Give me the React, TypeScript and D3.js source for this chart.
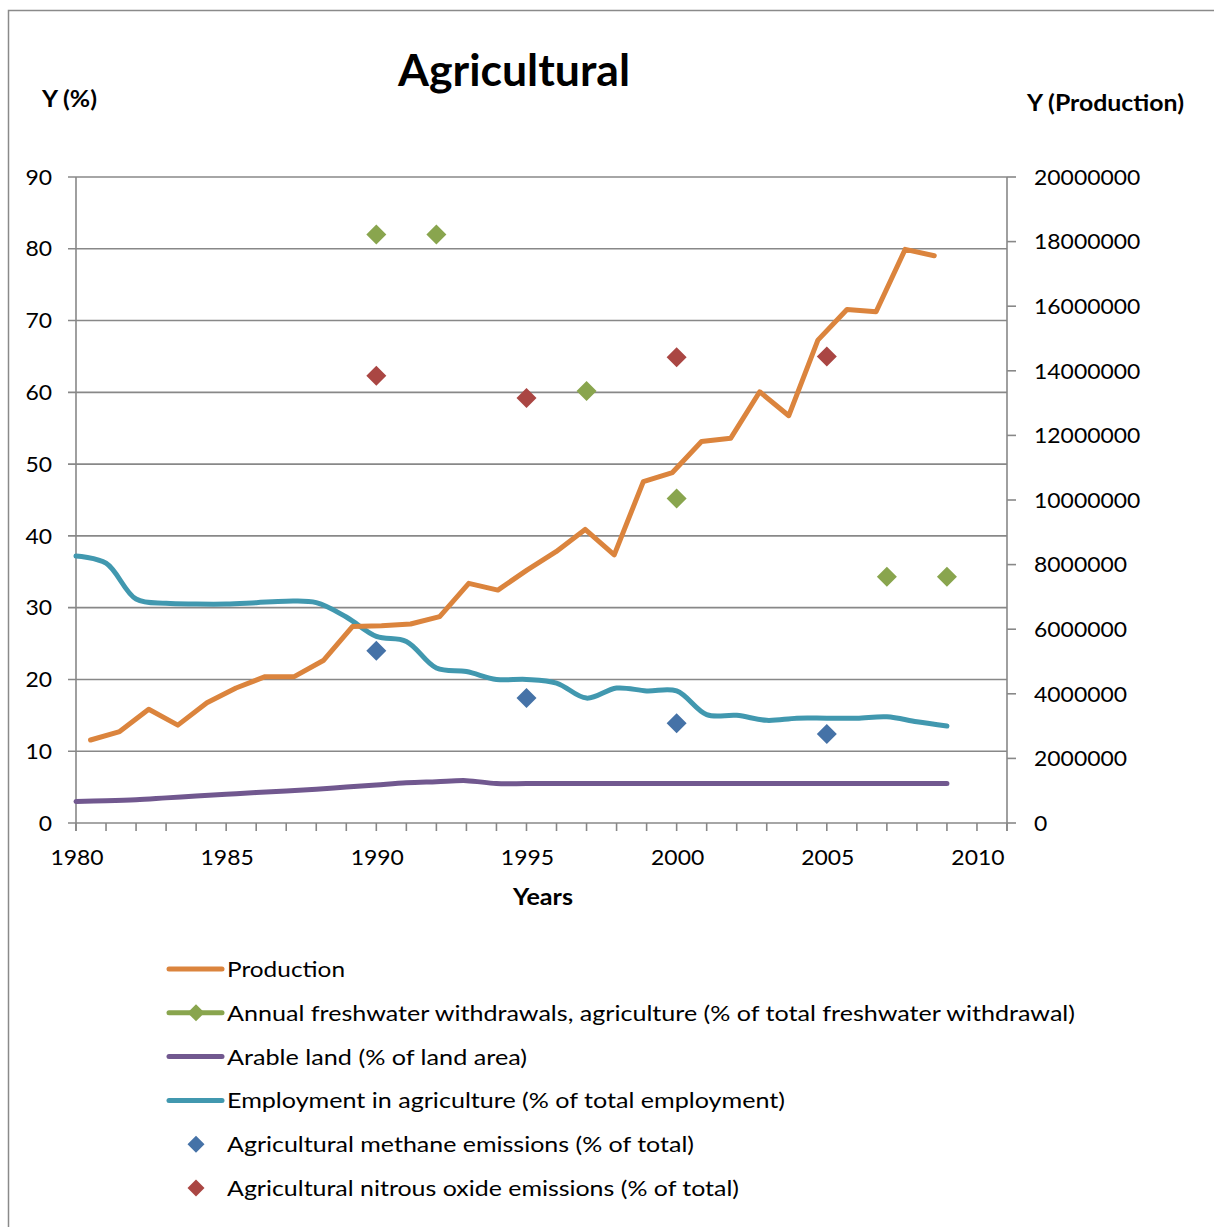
import React from "react";
import * as d3 from "d3";

const years = d3.range(1980, 2010);
const allYears = d3.range(1980, 2012);
const production = [2570000, 2830000, 3520000, 3030000, 3720000, 4180000, 4530000, 4530000, 5030000, 6080000, 6110000, 6160000, 6390000, 7420000, 7210000, 7830000, 8400000, 9090000, 8300000, 10570000, 10850000, 11810000, 11910000, 13350000, 12610000, 14950000, 15900000, 15830000, 17760000, 17560000];
const employment = [37.2, 36.2, 31.2, 30.6, 30.5, 30.5, 30.7, 30.9, 30.7, 28.7, 26.0, 25.3, 21.6, 21.1, 20.0, 20.0, 19.5, 17.4, 18.8, 18.4, 18.4, 15.1, 15.0, 14.3, 14.6, 14.6, 14.6, 14.8, 14.1, 13.5];
const arable = [3.0, 3.1, 3.25, 3.5, 3.75, 4.0, 4.25, 4.45, 4.7, 5.0, 5.3, 5.6, 5.75, 5.9, 5.5, 5.5, 5.5, 5.5, 5.5, 5.5, 5.5, 5.5, 5.5, 5.5, 5.5, 5.5, 5.5, 5.5, 5.5, 5.5];
const freshwaterYears = [1990, 1992, 1997, 2000, 2007, 2009];
const freshwater = [82.0, 82.0, 60.2, 45.2, 34.3, 34.3];
const methaneYears = [1990, 1995, 2000, 2005];
const methane = [24.0, 17.4, 13.9, 12.4];
const nitrousYears = [1990, 1995, 2000, 2005];
const nitrous = [62.3, 59.2, 64.9, 65.0];
const leftTicks = d3.range(0, 91, 10);
const rightTicks = d3.range(0, 20000001, 2000000);
const yearLabels = [1980, 1985, 1990, 1995, 2000, 2005, 2010];

const C = {
  production: "#DB843D",
  freshwater: "#89A54E",
  arable: "#71588F",
  employment: "#4198AF",
  methane: "#4572A7",
  nitrous: "#AA4643",
  grid: "#888888",
};

const legendItems = [
  { label: "Production", color: C.production, kind: "line", w: 118 },
  { label: "Annual freshwater withdrawals, agriculture (% of total freshwater withdrawal)", color: C.freshwater, kind: "linemarker", w: 848 },
  { label: "Arable land (% of land area)", color: C.arable, kind: "line", w: 300 },
  { label: "Employment in agriculture (% of total employment)", color: C.employment, kind: "line", w: 558 },
  { label: "Agricultural methane emissions (% of total)", color: C.methane, kind: "marker", w: 467 },
  { label: "Agricultural nitrous oxide emissions (% of total)", color: C.nitrous, kind: "marker", w: 512 },
];

const FONT = "Lato, 'Open Sans', sans-serif";
const DIGIT_W = 13.3;

function diamond(cx: number, cy: number, r: number) {
  return `M${cx},${cy - r}L${cx + r},${cy}L${cx},${cy + r}L${cx - r},${cy}Z`;
}

export default function App() {
  const W = 1214, H = 1227;
  const x0 = 76, x1 = 1007, yTop = 177, yBot = 823;
  const x = d3.scaleLinear().domain([1980, 2011]).range([x0, x1]);
  const xProd = d3.scaleBand<number>().domain(allYears).range([x0, x1]).padding(0);
  const y = d3.scaleLinear().domain([0, 90]).range([yBot, yTop]);
  const y2 = d3.scaleLinear().domain([0, 20000000]).range([yBot, yTop]);

  const prodLine = d3.line<number>()
    .x((_, i) => (xProd(years[i]) as number) + xProd.bandwidth() / 2)
    .y((d) => y2(d));
  const smooth = d3.line<number>()
    .x((_, i) => x(years[i]))
    .y((d) => y(d))
    .curve(d3.curveCatmullRom.alpha(0.5));

  const legendY0 = 969, legendStep = 43.8;
  const LW = 5;

  return (
    <svg width={W} height={H} style={{ position: "absolute", left: 0, top: 0, background: "#fff" }} fontFamily={FONT}>
      <rect x={0} y={0} width={W} height={H} fill="#fff" />
      <rect x={8.5} y={10.5} width={W + 20} height={H + 20} fill="none" stroke="#8a8a8a" strokeWidth={1.5} />

      {/* gridlines */}
      {leftTicks.map((t) => (
        <line key={"g" + t} x1={x0 - 8} x2={x1} y1={y(t)} y2={y(t)} stroke={C.grid} strokeWidth={1.6} />
      ))}
      {/* axes */}
      <line x1={x0} x2={x0} y1={yTop} y2={yBot + 8} stroke={C.grid} strokeWidth={1.6} />
      <line x1={x1} x2={x1} y1={yTop} y2={yBot} stroke={C.grid} strokeWidth={1.6} />
      {rightTicks.map((t) => (
        <line key={"r" + t} x1={x1} x2={x1 + 9} y1={y2(t)} y2={y2(t)} stroke={C.grid} strokeWidth={1.6} />
      ))}
      {allYears.map((yr) => (
        <line key={"xt" + yr} x1={x(yr)} x2={x(yr)} y1={yBot} y2={yBot + 8} stroke={C.grid} strokeWidth={1.6} />
      ))}
      <line x1={x1} x2={x1} y1={yBot} y2={yBot + 8} stroke={C.grid} strokeWidth={1.6} />

      {/* tick labels */}
      {leftTicks.map((t) => (
        <text key={"lt" + t} x={52} y={y(t)} dy="0.35em" textAnchor="end" fontSize={22} fill="#000"
          textLength={String(t).length * DIGIT_W} lengthAdjust="spacingAndGlyphs">{t}</text>
      ))}
      {rightTicks.map((t) => (
        <text key={"rt" + t} x={1034} y={y2(t)} dy="0.35em" textAnchor="start" fontSize={22} fill="#000"
          textLength={String(t).length * DIGIT_W} lengthAdjust="spacingAndGlyphs">{t}</text>
      ))}
      {yearLabels.map((yr) => (
        <text key={"yl" + yr} x={x(yr) + 1} y={857} dy="0.35em" textAnchor="middle" fontSize={22} fill="#000"
          textLength={4 * DIGIT_W} lengthAdjust="spacingAndGlyphs">{yr}</text>
      ))}

      {/* titles */}
      <text x={514} y={86} textAnchor="middle" fontSize={44} fontWeight="bold" fill="#000" textLength={232} lengthAdjust="spacingAndGlyphs">Agricultural</text>
      <text x={42} y={107} fontSize={22} fontWeight="bold" fill="#000" textLength={55} lengthAdjust="spacingAndGlyphs">Y (%)</text>
      <text x={1027} y={111} fontSize={22} fontWeight="bold" fill="#000" textLength={157} lengthAdjust="spacingAndGlyphs">Y (Production)</text>
      <text x={543} y={905} textAnchor="middle" fontSize={22} fontWeight="bold" fill="#000" textLength={60} lengthAdjust="spacingAndGlyphs">Years</text>

      {/* series */}
      <path d={smooth(arable) || ""} fill="none" stroke={C.arable} strokeWidth={LW} strokeLinecap="round" />
      <path d={smooth(employment) || ""} fill="none" stroke={C.employment} strokeWidth={LW} strokeLinecap="round" />
      <path d={prodLine(production) || ""} fill="none" stroke={C.production} strokeWidth={LW} strokeLinecap="round" strokeLinejoin="round" />
      {freshwater.map((v, i) => (
        <path key={"fw" + i} d={diamond(x(freshwaterYears[i]), y(v), 10)} fill={C.freshwater} />
      ))}
      {methane.map((v, i) => (
        <path key={"me" + i} d={diamond(x(methaneYears[i]), y(v), 10)} fill={C.methane} />
      ))}
      {nitrous.map((v, i) => (
        <path key={"ni" + i} d={diamond(x(nitrousYears[i]), y(v), 10)} fill={C.nitrous} />
      ))}

      {/* legend */}
      {legendItems.map((it, i) => {
        const ly = legendY0 + i * legendStep;
        return (
          <g key={"lg" + i}>
            {(it.kind === "line" || it.kind === "linemarker") && (
              <line x1={169} x2={222} y1={ly} y2={ly} stroke={it.color} strokeWidth={LW} strokeLinecap="round" />
            )}
            {(it.kind === "marker" || it.kind === "linemarker") && (
              <path d={diamond(196, ly, 8.5)} fill={it.color} />
            )}
            <text x={227} y={ly} dy="0.36em" fontSize={22} fill="#000" textLength={it.w} lengthAdjust="spacingAndGlyphs">{it.label}</text>
          </g>
        );
      })}
    </svg>
  );
}
